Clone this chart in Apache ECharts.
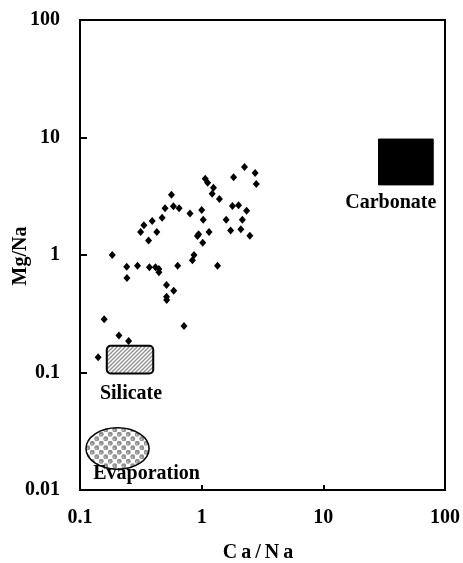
<!DOCTYPE html>
<html>
<head>
<meta charset="utf-8">
<script src="https://cdn.jsdelivr.net/npm/echarts@6/dist/echarts.min.js"></script>
<style>html,body{margin:0;padding:0;background:#fff;}#c{width:463px;height:563px;}</style>
</head>
<body>
<div id="c"></div>
<script>
// ---- data ----
const caNa = [2.25, 2.75, 2.81, 1.83, 1.07, 1.12, 1.25, 1.22, 1.40, 0.565,
  0.586, 0.652, 0.500, 0.473, 0.392, 0.335, 0.315, 0.428, 0.366, 0.802,
  1.00, 1.03, 1.15, 0.944, 0.923, 1.02, 1.79, 2.01, 2.34, 1.59,
  2.16, 1.73, 2.10, 2.49, 0.184, 0.242, 0.297, 0.372, 0.417, 0.445,
  0.445, 0.635, 0.839, 0.865, 1.35, 0.243, 0.514, 0.589, 0.514, 0.516,
  0.158, 0.716, 0.209, 0.251, 0.141];
const mgNa = [5.61, 4.99, 4.02, 4.58, 4.46, 4.12, 3.74, 3.32, 3.00, 3.26,
  2.60, 2.50, 2.50, 2.08, 1.95, 1.79, 1.57, 1.57, 1.33, 2.25,
  2.42, 2.00, 1.57, 1.50, 1.45, 1.27, 2.61, 2.65, 2.38, 2.00,
  2.00, 1.62, 1.66, 1.46, 1.00, 0.795, 0.811, 0.786, 0.786, 0.760,
  0.713, 0.811, 0.901, 1.00, 0.811, 0.637, 0.556, 0.497, 0.442, 0.414,
  0.284, 0.249, 0.206, 0.185, 0.135];
const xTickLabels = ['0.1', '1', '10', '100'];
const yTickLabels = ['0.01', '0.1', '1', '10', '100'];
// end-member regions [xMin, xMax, yMin, yMax]
const carbonateBox = [28.4, 80, 3.95, 9.7];
const silicateBox = [0.166, 0.40, 0.098, 0.169];
const evaporationBox = [0.112, 0.37, 0.015, 0.0339];
const regionNames = ['Carbonate', 'Silicate', 'Evaporation'];

const FONT = "'Liberation Serif', 'Times New Roman', serif";

// ---- patterns ----
function hatchPattern() {
  const c = document.createElement('canvas');
  c.width = 4; c.height = 4;
  const g = c.getContext('2d');
  g.fillStyle = '#ffffff'; g.fillRect(0, 0, 4, 4);
  g.strokeStyle = '#8e8e8e'; g.lineWidth = 1.3;
  g.beginPath();
  g.moveTo(-1, 5); g.lineTo(5, -1);
  g.moveTo(-1, 1); g.lineTo(1, -1);
  g.moveTo(3, 5); g.lineTo(5, 3);
  g.stroke();
  return c;
}
function dotPattern() {
  const n = 9, h = n / 2;
  const c = document.createElement('canvas');
  c.width = n; c.height = n;
  const g = c.getContext('2d');
  g.fillStyle = '#ffffff'; g.fillRect(0, 0, n, n);
  [[h / 2, h / 2], [h * 1.5, h * 1.5]].forEach(function (p) {
    g.fillStyle = '#8f8f8f';
    g.beginPath(); g.arc(p[0], p[1], 2.45, 0, Math.PI * 2); g.fill();
    g.fillStyle = '#c4c4c4';
    g.beginPath(); g.arc(p[0] - 0.5, p[1] + 0.6, 0.9, 0, Math.PI * 2); g.fill();
  });
  return c;
}
const hatch = { image: hatchPattern(), repeat: 'repeat' };
const dots = { image: dotPattern(), repeat: 'repeat' };

const chart = echarts.init(document.getElementById('c'), null, { renderer: 'canvas' });

function boxPx(api, b) {
  const p1 = api.coord([b[0], b[3]]);
  const p2 = api.coord([b[1], b[2]]);
  return { x: p1[0], y: p1[1], w: p2[0] - p1[0], h: p2[1] - p1[1] };
}

const labelStyle = { fontFamily: FONT, fontWeight: 'bold', fontSize: 20, fill: '#000', align: 'center', verticalAlign: 'middle' };

const option = {
  animation: false,
  backgroundColor: '#ffffff',
  grid: { left: 80, top: 20, width: 366, height: 470, show: true, borderColor: '#000', borderWidth: 2, backgroundColor: 'transparent' },
  xAxis: {
    type: 'log', logBase: 10, min: 0.1, max: 100,
    axisLine: { show: true, lineStyle: { color: '#000', width: 2 } },
    axisTick: { show: true, inside: true, length: 5, lineStyle: { color: '#000', width: 2 } },
    splitLine: { show: false },
    minorTick: { show: false },
    axisLabel: {
      margin: 18, color: '#000', fontFamily: FONT, fontWeight: 'bold', fontSize: 20,
      showMinLabel: true, showMaxLabel: true,
      formatter: function (v, i) { return xTickLabels[i] !== undefined ? xTickLabels[i] : ''; }
    }
  },
  yAxis: {
    type: 'log', logBase: 10, min: 0.01, max: 100,
    axisLine: { show: true, lineStyle: { color: '#000', width: 2 } },
    axisTick: { show: true, inside: true, length: 7, lineStyle: { color: '#000', width: 2 } },
    splitLine: { show: false },
    minorTick: { show: false },
    axisLabel: {
      margin: 20, color: '#000', fontFamily: FONT, fontWeight: 'bold', fontSize: 20,
      showMinLabel: true, showMaxLabel: true,
      formatter: function (v, i) { return yTickLabels[i] !== undefined ? yTickLabels[i] : ''; }
    }
  },
  graphic: [
    {
      type: 'text', x: 21, y: 256, rotation: Math.PI / 2,
      style: { text: 'Mg/Na', fontFamily: FONT, fontWeight: 'bold', fontSize: 20, fill: '#000', align: 'center', verticalAlign: 'middle' }
    },
    {
      type: 'text', x: 258, y: 553,
      style: {
        text: '{s|C}{s|a}{s|/}{s|N}{s|a}',
        align: 'center', verticalAlign: 'middle',
        rich: { s: { fontFamily: FONT, fontWeight: 'bold', fontSize: 20, fill: '#000', padding: [0, 2, 0, 2] } }
      }
    }
  ],
  series: [
    {
      type: 'custom',
      coordinateSystem: 'cartesian2d',
      data: [[0]],
      silent: true,
      z: 1,
      renderItem: function (params, api) {
        const c = boxPx(api, carbonateBox);
        const s = boxPx(api, silicateBox);
        const e = boxPx(api, evaporationBox);
        return {
          type: 'group',
          children: [
            { type: 'rect', shape: { x: c.x, y: c.y, width: c.w, height: c.h }, style: { fill: '#000', stroke: '#000', lineWidth: 1 } },
            { type: 'text', style: Object.assign({ text: regionNames[0], x: c.x + c.w / 2 - 15, y: c.y + c.h + 18 }, labelStyle) },
            { type: 'rect', shape: { x: s.x, y: s.y, width: s.w, height: s.h, r: 4 }, style: { fill: hatch, stroke: '#000', lineWidth: 2 } },
            { type: 'text', style: Object.assign({ text: regionNames[1], x: s.x + s.w / 2 + 1, y: s.y + s.h + 20 }, labelStyle) },
            { type: 'ellipse', shape: { cx: e.x + e.w / 2, cy: e.y + e.h / 2, rx: e.w / 2, ry: e.h / 2 }, style: { fill: dots, stroke: '#000', lineWidth: 1.5 } },
            { type: 'text', style: Object.assign({ text: regionNames[2], x: e.x + e.w / 2 + 29, y: e.y + e.h + 5 }, labelStyle) }
          ]
        };
      }
    },
    {
      type: 'scatter',
      symbol: 'diamond',
      symbolSize: [7, 8],
      itemStyle: { color: '#000', opacity: 1 },
      z: 3,
      data: caNa.map(function (x, i) { return [x, mgNa[i]]; })
    }
  ]
};
chart.setOption(option);
</script>
</body>
</html>
